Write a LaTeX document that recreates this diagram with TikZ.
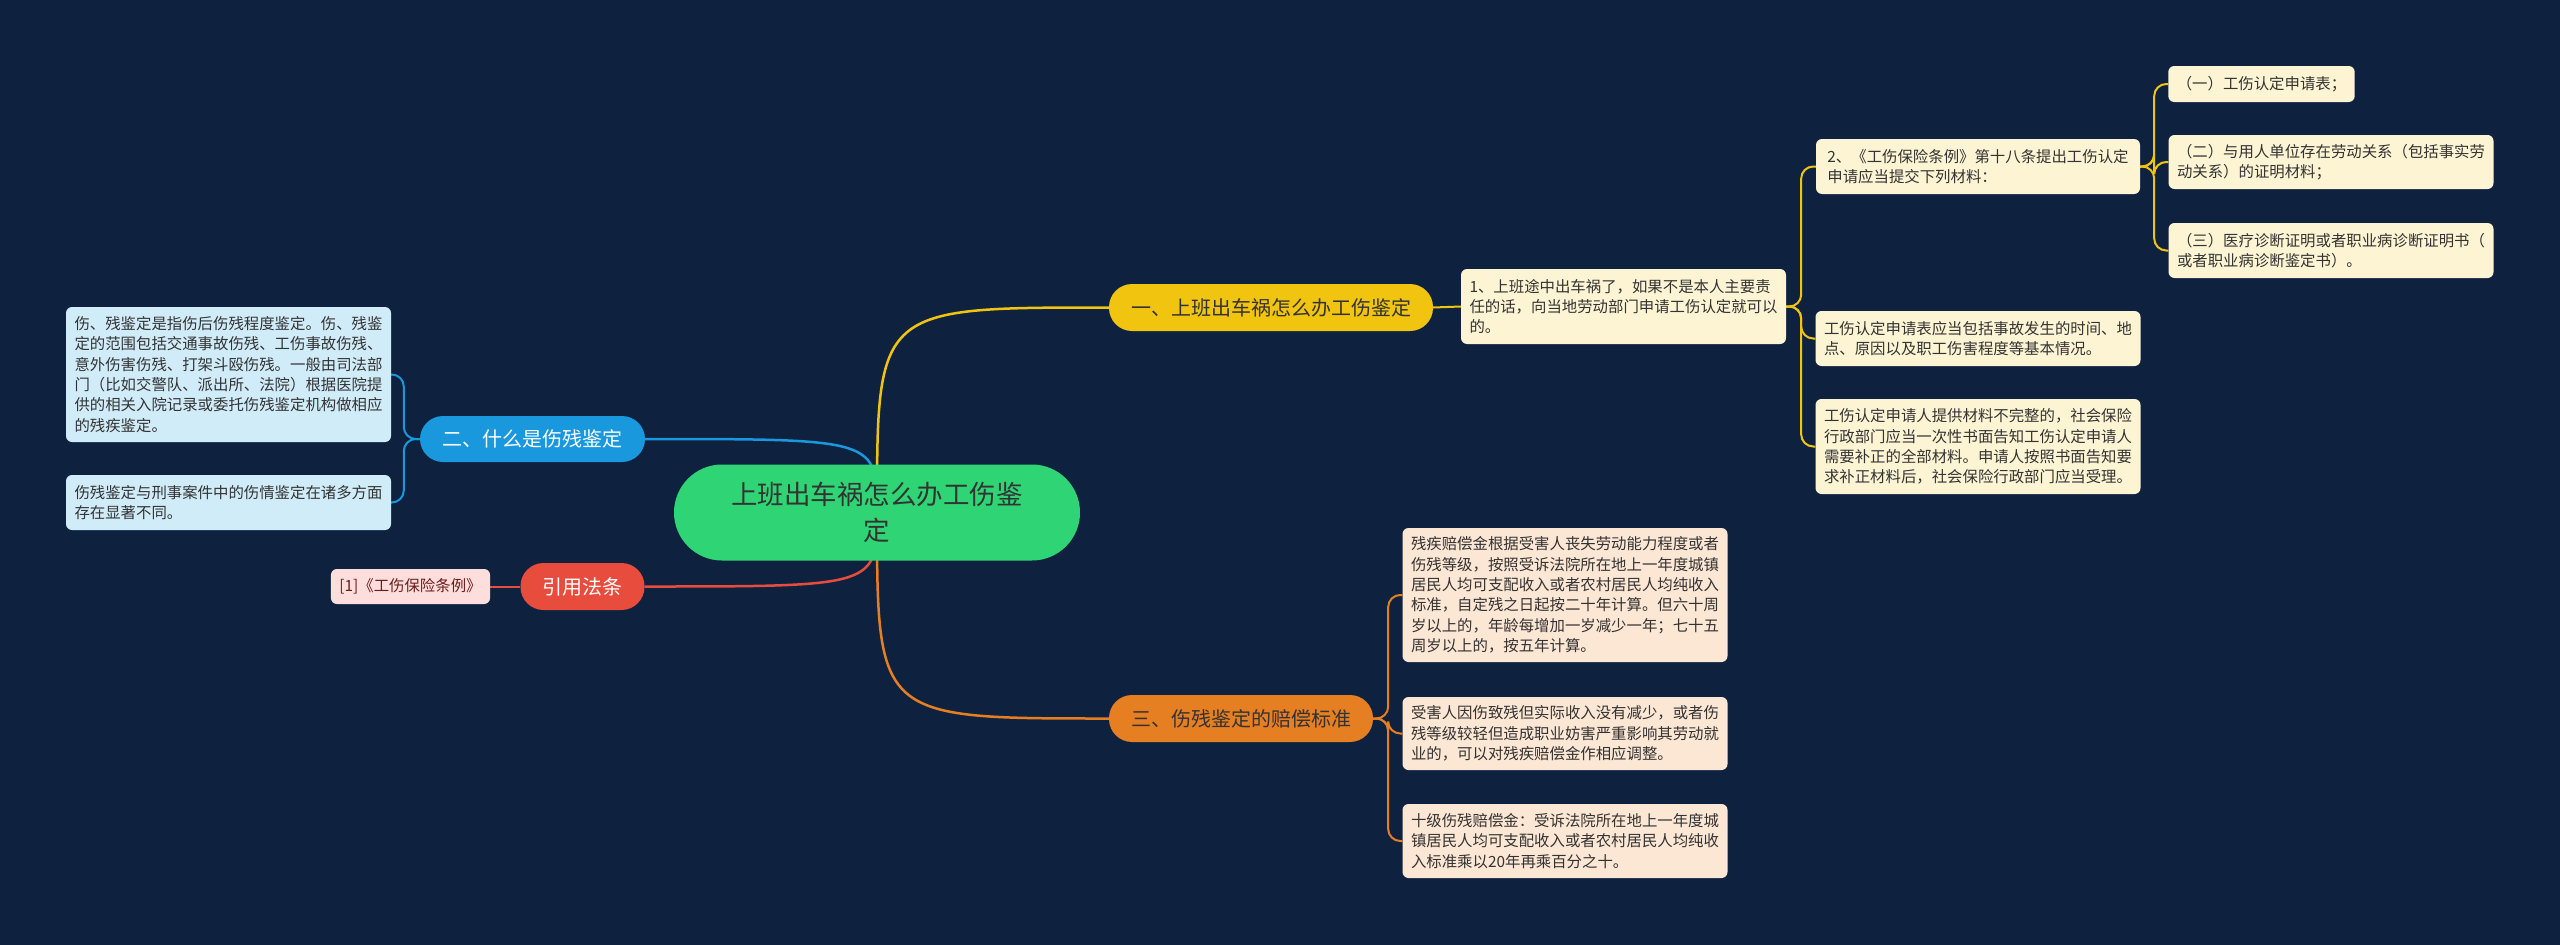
\documentclass[tikz,border=0pt]{standalone}
\usepackage{fontspec}
\setmainfont{Noto Sans CJK SC}
\usetikzlibrary{backgrounds}
\definecolor{bgc}{HTML}{0E2240}
\definecolor{rootc}{HTML}{2FD574}
\definecolor{yelc}{HTML}{F1C40F}
\definecolor{orac}{HTML}{E67E22}
\definecolor{bluc}{HTML}{1A98DD}
\definecolor{redc}{HTML}{E74C3C}
\definecolor{yleaf}{HTML}{FDF4D4}
\definecolor{oleaf}{HTML}{FCE6D4}
\definecolor{bleaf}{HTML}{D1ECF9}
\definecolor{rleaf}{HTML}{FDDEDC}
\definecolor{txtc}{HTML}{333333}
\definecolor{rtxt}{HTML}{6B1E1E}
\newcommand{\lfnt}{\fontsize{15.4}{20.3}\selectfont}
\newcommand{\bfnt}{\fontsize{20}{24}\selectfont}
\newcommand{\rfnt}{\fontsize{26.5}{36}\selectfont}
\begin{document}
\begin{tikzpicture}[x=1pt,y=-1pt,
  leafbox/.style={rounded corners=6pt, align=left, font=\lfnt, inner xsep=8.5pt, inner ysep=4pt, text=txtc},
  yleafbox/.style={leafbox, fill=yleaf},
  oleafbox/.style={leafbox, fill=oleaf},
  bleafbox/.style={leafbox, fill=bleaf},
  rleafbox/.style={leafbox, fill=rleaf, text=rtxt},
  branchbox/.style={rounded corners=23pt, font=\bfnt, inner sep=0pt, minimum height=47pt, align=center},
  mainline/.style={line width=2.5pt},
  leafline/.style={line width=2pt, rounded corners=12pt}
]
\useasboundingbox (0,0) rectangle (2560,945);

% root
\node[fill=rootc, rounded corners=48pt, minimum width=406pt, minimum height=96pt, inner sep=0pt, font=\rfnt, text=txtc, align=center] (root) at (877,512.5) {上班出车祸怎么办工伤鉴\\定};

% branches
\node[branchbox, fill=yelc, text=txtc, minimum width=324pt] (b1) at (1271,307.5) {一、上班出车祸怎么办工伤鉴定};
\node[branchbox, fill=orac, text=txtc, minimum width=264pt] (b3) at (1241,718.5) {三、伤残鉴定的赔偿标准};
\node[branchbox, fill=bluc, text=white, minimum width=225pt, minimum height=46pt] (b2) at (532.5,439) {二、什么是伤残鉴定};
\node[branchbox, fill=redc, text=white, minimum width=124pt] (b4) at (582.5,586.5) {引用法条};

% yellow leaves
\node[yleafbox, minimum width=325pt, minimum height=75pt] (l1) at (1623.5,306.5) {1、上班途中出车祸了，如果不是本人主要责\\任的话，向当地劳动部门申请工伤认定就可以\\的。};
\node[yleafbox, minimum width=324pt, minimum height=55pt] (l2) at (1978,166.5) {2、《工伤保险条例》第十八条提出工伤认定\\申请应当提交下列材料：};
\node[yleafbox, minimum width=324pt, minimum height=55pt] (l3) at (1978,338.5) {工伤认定申请表应当包括事故发生的时间、地\\点、原因以及职工伤害程度等基本情况。};
\node[yleafbox, minimum width=324pt, minimum height=95pt] (l4) at (1978,446.5) {工伤认定申请人提供材料不完整的，社会保险\\行政部门应当一次性书面告知工伤认定申请人\\需要补正的全部材料。申请人按照书面告知要\\求补正材料后，社会保险行政部门应当受理。};
\node[yleafbox, minimum width=185pt, minimum height=36pt] (s1) at (2261.5,84) {（一）工伤认定申请表；};
\node[yleafbox, minimum width=324pt, minimum height=54pt] (s2) at (2331,162) {（二）与用人单位存在劳动关系（包括事实劳\\动关系）的证明材料；};
\node[yleafbox, minimum width=324pt, minimum height=55pt] (s3) at (2331,250.5) {（三）医疗诊断证明或者职业病诊断证明书（\\或者职业病诊断鉴定书）。};

% blue leaves
\node[bleafbox, minimum width=325pt, minimum height=135pt] (p1) at (228.5,374.5) {伤、残鉴定是指伤后伤残程度鉴定。伤、残鉴\\定的范围包括交通事故伤残、工伤事故伤残、\\意外伤害伤残、打架斗殴伤残。一般由司法部\\门（比如交警队、派出所、法院）根据医院提\\供的相关入院记录或委托伤残鉴定机构做相应\\的残疾鉴定。};
\node[bleafbox, minimum width=325pt, minimum height=55pt] (p2) at (228.5,502.5) {伤残鉴定与刑事案件中的伤情鉴定在诸多方面\\存在显著不同。};

% orange leaves
\node[oleafbox, minimum width=324pt, minimum height=134pt] (o1) at (1565,595) {残疾赔偿金根据受害人丧失劳动能力程度或者\\伤残等级，按照受诉法院所在地上一年度城镇\\居民人均可支配收入或者农村居民人均纯收入\\标准，自定残之日起按二十年计算。但六十周\\岁以上的，年龄每增加一岁减少一年；七十五\\周岁以上的，按五年计算。};
\node[oleafbox, minimum width=324pt, minimum height=73pt] (o2) at (1565,733.5) {受害人因伤致残但实际收入没有减少，或者伤\\残等级较轻但造成职业妨害严重影响其劳动就\\业的，可以对残疾赔偿金作相应调整。};
\node[oleafbox, minimum width=324pt, minimum height=74pt] (o3) at (1565,841) {十级伤残赔偿金：受诉法院所在地上一年度城\\镇居民人均可支配收入或者农村居民人均纯收\\入标准乘以20年再乘百分之十。};

% red leaf
\node[rleafbox, minimum width=159pt, minimum height=35pt] (r1) at (410.5,586.5) {[1]《工伤保险条例》};

\begin{pgfonlayer}{background}
\fill[bgc] (0,0) rectangle (2560,945);
% root to branches
\draw[mainline, yelc] (root.center) .. controls (root.center |- b1.west) .. (b1.west);
\draw[mainline, orac] (root.center) .. controls (root.center |- b3.west) .. (b3.west);
\draw[mainline, bluc] (root.center) .. controls (root.center |- b2.east) .. (b2.east);
\draw[mainline, redc] (root.center) .. controls (root.center |- b4.east) .. (b4.east);
% yellow
\draw[leafline, yelc] (b1.east) -- (l1.west);
\draw[leafline, yelc] (l1.east) -- ++(15,0) |- (l2.west);
\draw[leafline, yelc] (l1.east) -- ++(15,0) |- (l3.west);
\draw[leafline, yelc] (l1.east) -- ++(15,0) |- (l4.west);
\draw[leafline, yelc] (l2.east) -- ++(14,0) |- (s1.west);
\draw[leafline, yelc] (l2.east) -- ++(14,0) |- (s2.west);
\draw[leafline, yelc] (l2.east) -- ++(14,0) |- (s3.west);
% blue
\draw[leafline, bluc] (b2.west) -- ++(-16,0) |- (p1.east);
\draw[leafline, bluc] (b2.west) -- ++(-16,0) |- (p2.east);
% orange
\draw[leafline, orac] (b3.east) -- ++(15,0) |- (o1.west);
\draw[leafline, orac] (b3.east) -- ++(15,0) |- (o2.west);
\draw[leafline, orac] (b3.east) -- ++(15,0) |- (o3.west);
% red
\draw[leafline, redc] (b4.west) -- (r1.east);
\end{pgfonlayer}
\end{tikzpicture}
\end{document}
